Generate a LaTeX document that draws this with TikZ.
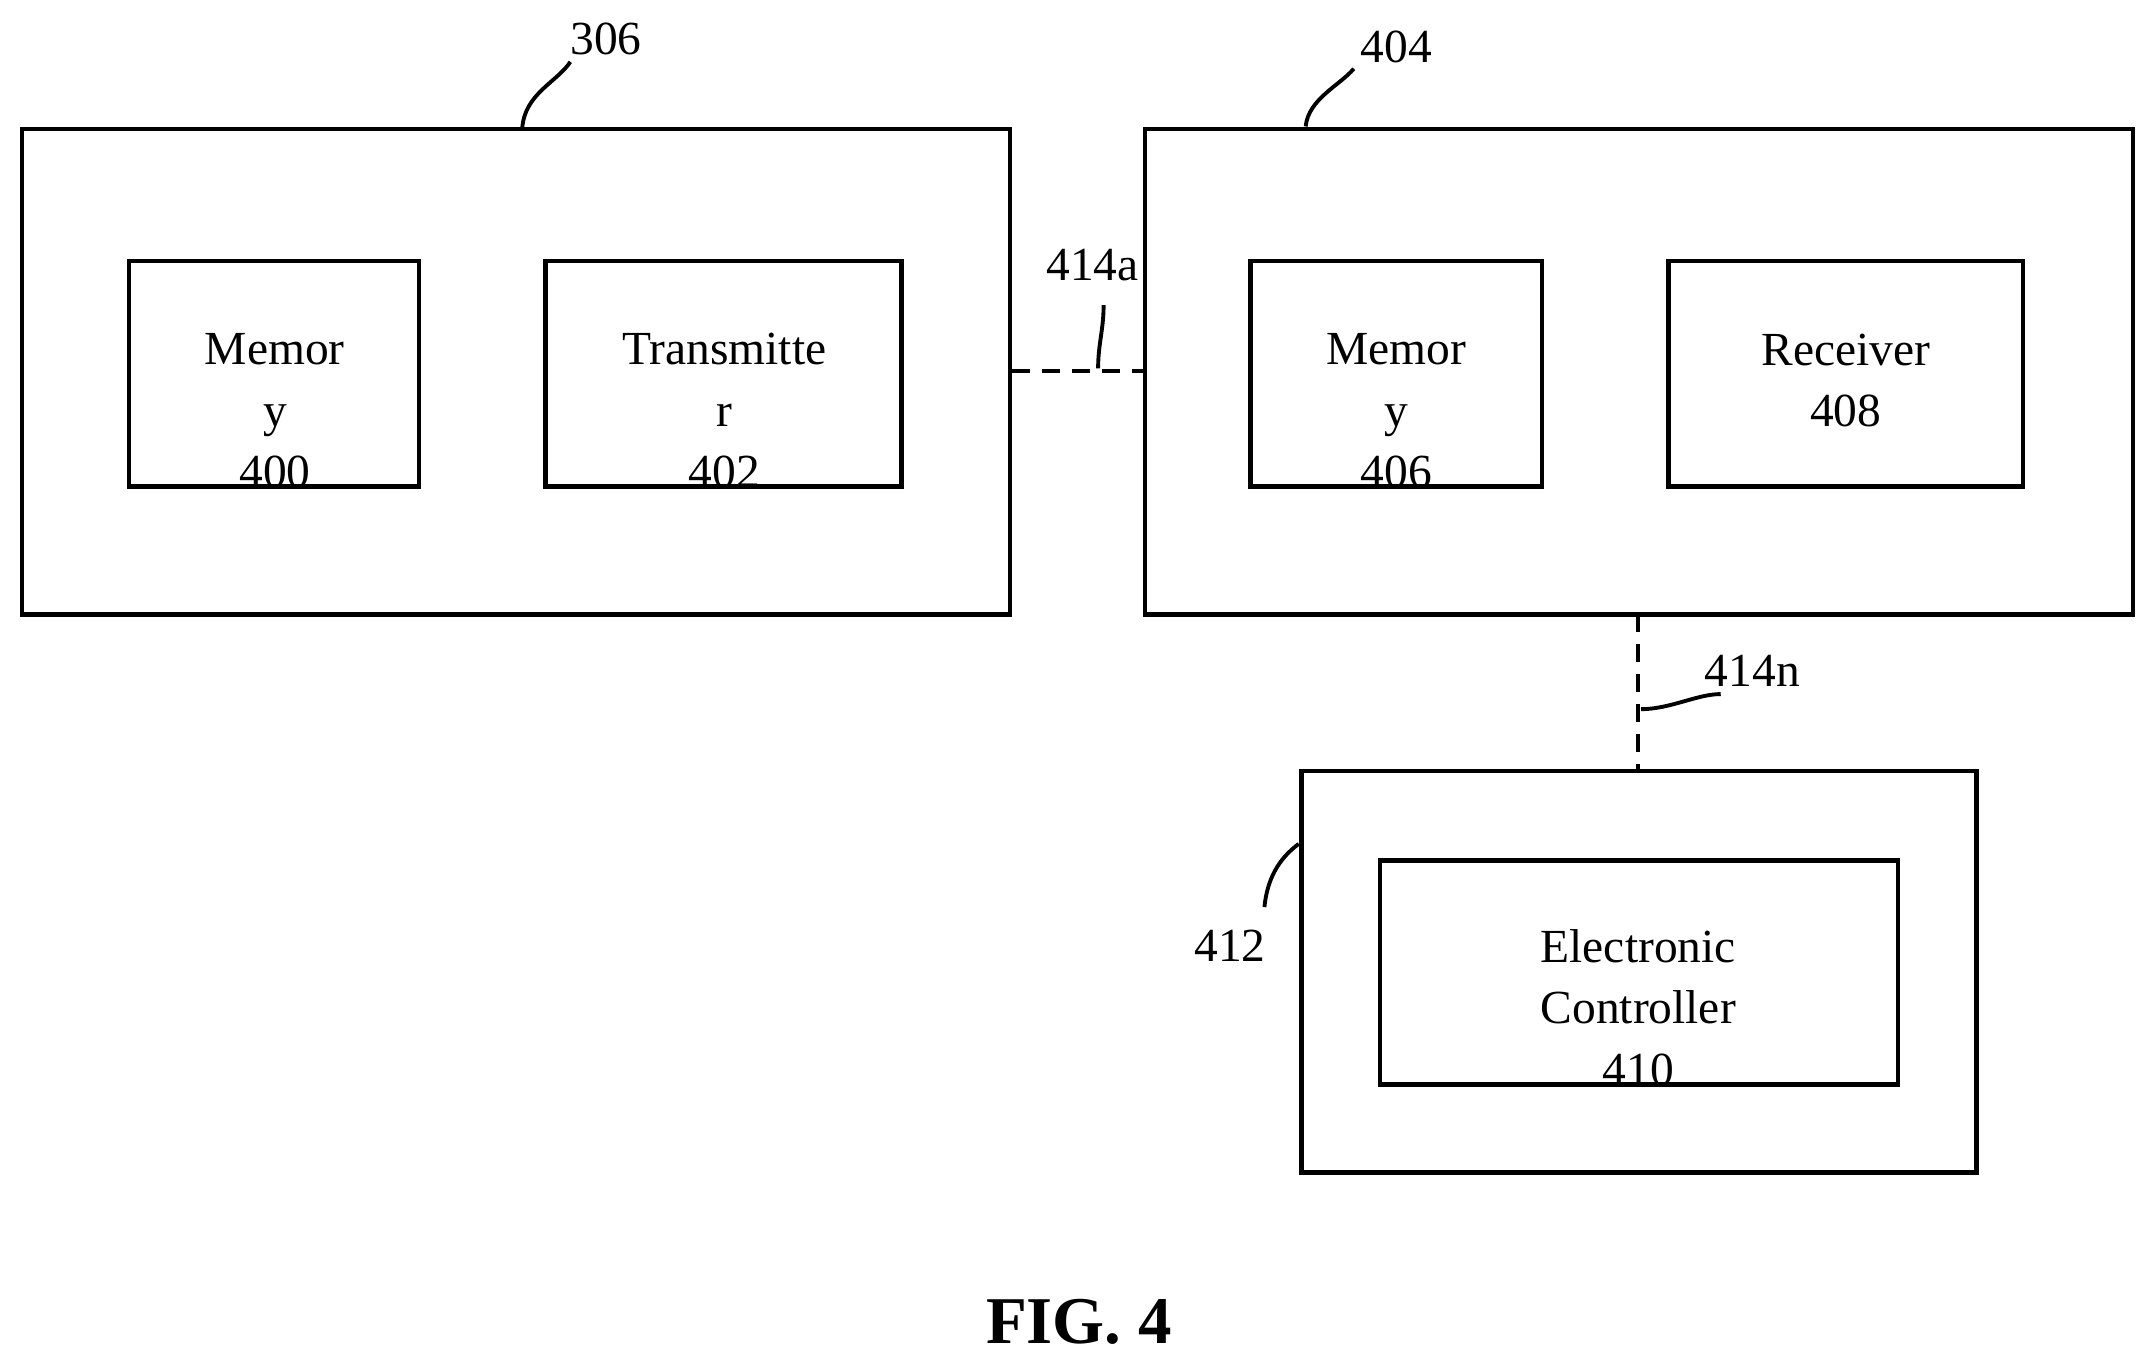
\documentclass[tikz,border=0pt]{standalone}
\usepackage{fontspec}
\setmainfont{Liberation Serif}
\usetikzlibrary{calc}
\tikzset{
  box/.style={rectangle,draw,line width=1.3pt,inner sep=0pt},
  txt/.style={align=center,font=\fontsize{13.5}{17.5}\selectfont,inner sep=0pt},
  lead/.style={line width=1.1pt},
  link/.style={line width=1.1pt,dash pattern=on 5pt off 3.5pt}
}
\newcommand{\boxat}[5]{% name, x1, y1, x2, y2
  \node[box,minimum width={(#4-#2)*0.01374cm},minimum height={(#5-#3)*0.01374cm}] (#1) at ({(#2+#4)/2},{(#3+#5)/2}) {};}
\begin{document}
\begin{tikzpicture}[x=0.01374cm,y=-0.01374cm]
  \useasboundingbox (0,0) rectangle (1568,993);
  % outer units
  \boxat{Unit}{16}{94}{735}{447}
  \boxat{Hub}{833}{94}{1552}{447}
  \boxat{Device}{947}{561}{1438}{853}
  % inner blocks
  \boxat{MemA}{94}{190}{305}{354}
  \boxat{Tx}{397}{190}{656}{354}
  \boxat{MemB}{910}{190}{1122}{354}
  \boxat{Rx}{1214}{190}{1472}{354}
  \boxat{Ctrl}{1004}{626}{1381}{789}
  \node[txt] (MemAText) at (200,299) {Memor\\y\\400};
  \node[txt] (TxText) at (527,299) {Transmitte\\r\\402};
  \node[txt] (MemBText) at (1016,299) {Memor\\y\\406};
  \node[txt] (RxText) at (1343,277) {Receiver\\408};
  \node[txt] (CtrlText) at (1192,733) {Electronic\\Controller\\410};
  % links
  \coordinate (LinkA) at (Unit.east |- 0,270);
  \coordinate (LinkB) at (Hub.west |- 0,270);
  \draw[link] (LinkA) -- (LinkB);
  \coordinate (LinkC) at (1192,447);
  \coordinate (LinkD) at (1192,561);
  \draw[link] (LinkC) -- (LinkD);
  % reference numerals
  \node[txt] (L306) at (441,28) {306};
  \node[txt] (L404) at (1016,34) {404};
  \node[txt] (L414a) at (795,193) {414a};
  \node[txt] (L414n) at (1275,488) {414n};
  \node[txt] (L412) at (895,688) {412};
  \draw[lead] (380,93) .. controls (382,68) and (405,60) .. (415,45);
  \draw[lead] (950,92) .. controls (952,72) and (975,62) .. (985,50);
  \draw[lead] (799,268) .. controls (799,250) and (803,240) .. (803,222);
  \draw[lead] (1194,516) .. controls (1215,516) and (1235,505) .. (1252,505);
  \draw[lead] (945,614) .. controls (930,625) and (922,640) .. (920,660);
  \node[font=\bfseries\fontsize{19}{22}\selectfont] (Fig) at (785,962) {FIG. 4};
\end{tikzpicture}
\end{document}
